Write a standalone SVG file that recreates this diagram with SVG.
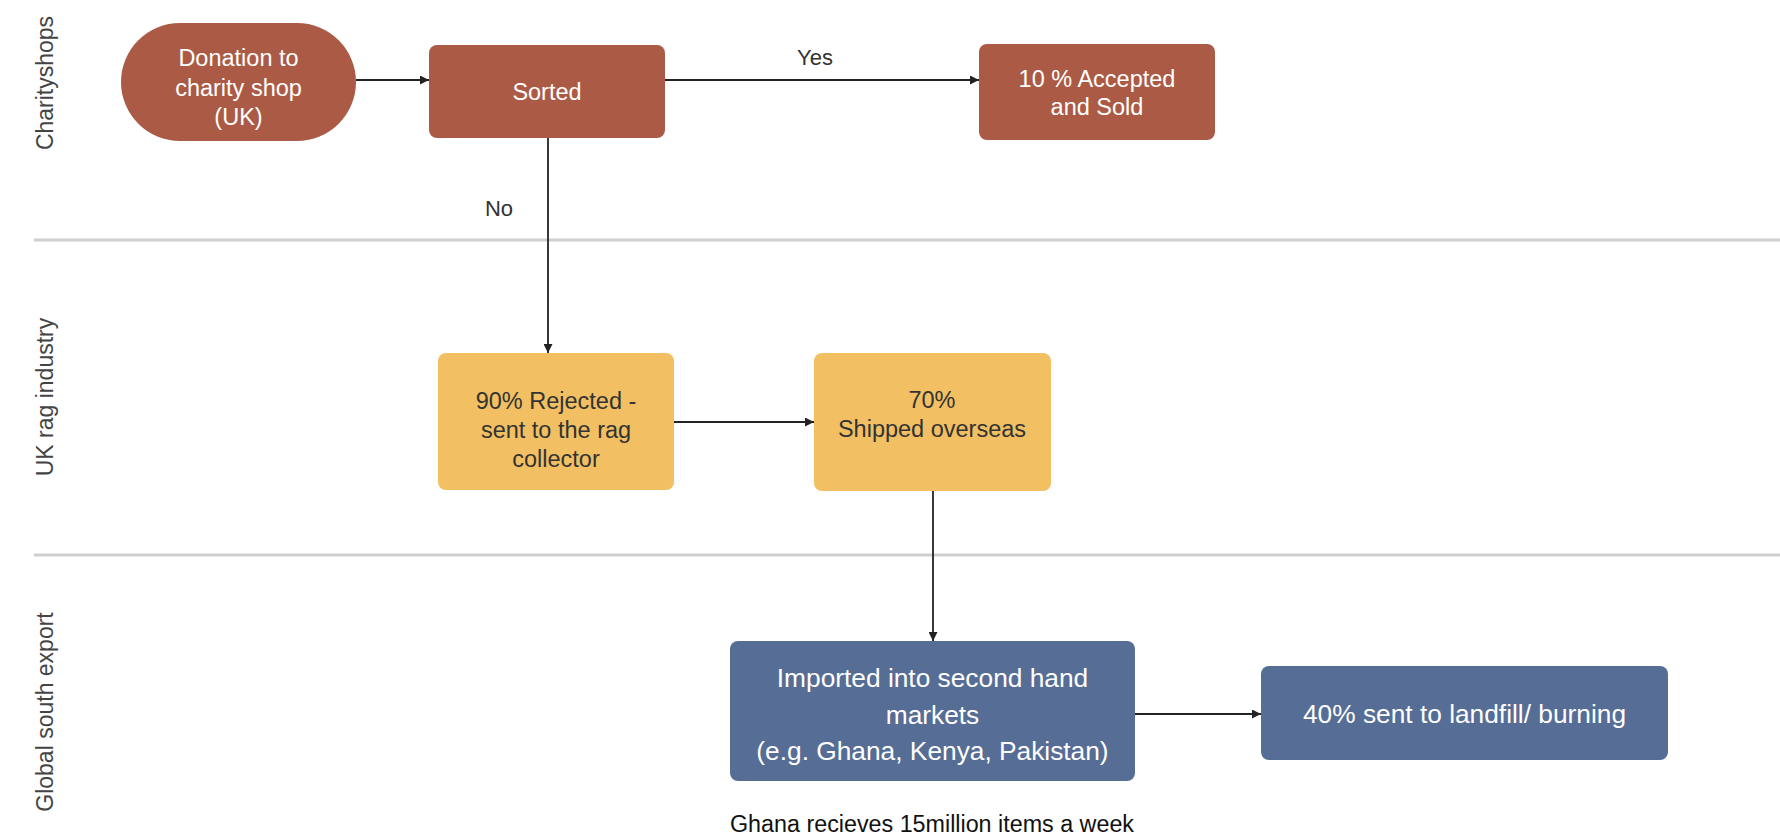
<svg xmlns="http://www.w3.org/2000/svg" width="1780" height="840" viewBox="0 0 1780 840">
<style>
.lane{stroke:#cfcfcf;stroke-width:3}
.lt{font-family:"Liberation Sans",Arial,sans-serif;font-size:23px;fill:#444;text-anchor:middle}
.nt{font-family:"Liberation Sans",Arial,sans-serif;font-size:23.5px;text-anchor:middle}
.bt{font-family:"Liberation Sans",Arial,sans-serif;font-size:26.3px;text-anchor:middle}
.w{fill:#fff}
.d{fill:#333}
.brown{fill:#ab5b45}
.yel{fill:#f2c062}
.blue{fill:#566d95}
.c{stroke:#222;stroke-width:1.8;fill:none;marker-end:url(#ah)}
.lbl{font-family:"Liberation Sans",Arial,sans-serif;font-size:22px;fill:#333;text-anchor:middle}
</style>
<defs>
<marker id="ah" viewBox="0 0 10 10" refX="10" refY="5" markerWidth="5" markerHeight="5" orient="auto" markerUnits="strokeWidth">
<path d="M0,0 L10,5 L0,10 z" fill="#222"/>
</marker>
</defs>
<rect width="1780" height="840" fill="#fff"/>
<g id="lanes">
<line class="lane" x1="34" y1="240" x2="1780" y2="240"/>
<line class="lane" x1="34" y1="555" x2="1780" y2="555"/>
<text class="lt" transform="translate(53,83) rotate(-90)">Charityshops</text>
<text class="lt" transform="translate(53,397) rotate(-90)">UK rag industry</text>
<text class="lt" transform="translate(53,712) rotate(-90)">Global south export</text>
</g>
<g id="connectors">
<line class="c" x1="356" y1="80" x2="429" y2="80"/>
<line class="c" x1="665" y1="80" x2="979" y2="80"/>
<line class="c" x1="548" y1="138" x2="548" y2="353"/>
<line class="c" x1="674" y1="422" x2="814" y2="422"/>
<line class="c" x1="933" y1="490" x2="933" y2="641"/>
<line class="c" x1="1135" y1="714" x2="1261" y2="714"/>
<text class="lbl" x="815" y="65">Yes</text>
<text class="lbl" x="499" y="216">No</text>
</g>
<g id="donation">
<rect class="brown" x="121" y="23" width="235" height="118" rx="59"/>
<text class="nt w" x="238.5" y="66">Donation to</text>
<text class="nt w" x="238.5" y="96">charity shop</text>
<text class="nt w" x="238.5" y="125">(UK)</text>
</g>
<g id="sorted">
<rect class="brown" x="429" y="45" width="236" height="93" rx="8"/>
<text class="nt w" x="547" y="100">Sorted</text>
</g>
<g id="accepted">
<rect class="brown" x="979" y="44" width="236" height="96" rx="8"/>
<text class="nt w" x="1097" y="87">10 % Accepted</text>
<text class="nt w" x="1097" y="115">and Sold</text>
</g>
<g id="rejected">
<rect class="yel" x="438" y="353" width="236" height="137" rx="8"/>
<text class="nt d" x="556" y="409">90% Rejected -</text>
<text class="nt d" x="556" y="438">sent to the rag</text>
<text class="nt d" x="556" y="467">collector</text>
</g>
<g id="shipped">
<rect class="yel" x="814" y="353" width="237" height="138" rx="8"/>
<text class="nt d" x="932" y="408">70%</text>
<text class="nt d" x="932" y="437">Shipped overseas</text>
</g>
<g id="imported">
<rect class="blue" x="730" y="641" width="405" height="140" rx="8"/>
<text class="bt w" x="932.5" y="687">Imported into second hand</text>
<text class="bt w" x="932.5" y="724">markets</text>
<text class="bt w" x="932.5" y="760">(e.g. Ghana, Kenya, Pakistan)</text>
</g>
<g id="landfill">
<rect class="blue" x="1261" y="666" width="407" height="94" rx="8"/>
<text class="bt w" x="1464.5" y="723">40% sent to landfill/ burning</text>
</g>
<g id="note">
<text x="730" y="832" style="font-family:'Liberation Sans',Arial,sans-serif;font-size:23.3px;fill:#111">Ghana recieves 15million items a week</text>
</g>
</svg>
